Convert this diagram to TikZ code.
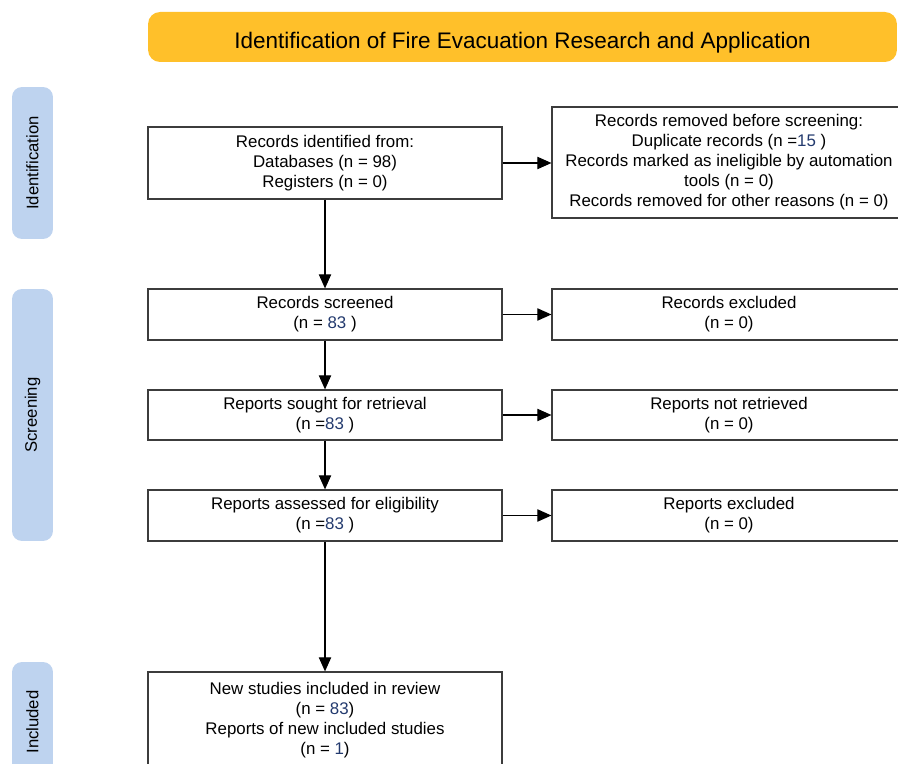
\documentclass[tikz,border=0pt]{standalone}
\usepackage{fontspec}
\setmainfont{Liberation Sans}
\usetikzlibrary{arrows.meta}

\definecolor{titlegold}{RGB}{255,192,42}
\definecolor{phaseblue}{RGB}{190,211,239}
\definecolor{boxline}{RGB}{60,60,60}
\definecolor{numcol}{RGB}{35,58,110}
\newcommand{\boxfont}{\fontsize{9.6}{11.4}\selectfont}
\newcommand{\nval}[1]{\textcolor{numcol}{#1}}

\tikzset{
  recbox/.style={draw=boxline, line width=0.7pt, minimum width=7.08cm,
    align=center, font=\boxfont, inner sep=2pt},
  phase/.style={fill=phaseblue, rounded corners=0.2cm, rotate=90,
    minimum height=0.82cm, font=\fontsize{9.5}{11}\selectfont},
  flow/.style={draw=black, line width=0.65pt, -{Triangle[length=8pt,width=7pt]}}
}

\begin{document}
\begin{tikzpicture}[x=0.02cm,y=-0.02cm]
\useasboundingbox (0,0) rectangle (898,763);
\clip (0,0) rectangle (898,763);

% title bar
\node[fill=titlegold, rounded corners=0.24cm, minimum width=14.98cm, minimum height=1cm,
  text height=0.6cm, text depth=0.12cm,
  font=\fontsize{12.8}{15}\selectfont] (title) at (522.5,37)
  {Identification of Fire Evacuation Research and Application};

% phases
\node[phase, minimum width=3.04cm] (phid) at (32.5,163) {Identification};
\node[phase, minimum width=5.04cm] (phscr) at (32.5,415) {Screening};
\node[phase, minimum width=2.4cm] (phinc) at (32.5,722) {Included};

% left column
\node[recbox, minimum height=1.44cm] (ident) at (325,163)
  {Records identified from:\\Databases (n = 98)\\Registers (n = 0)};
\node[recbox, minimum height=1.02cm] (screened) at (325,314.5)
  {Records screened\\(n = \nval{83} )};
\node[recbox, minimum height=1cm] (sought) at (325,415)
  {Reports sought for retrieval\\(n =\nval{83} )};
\node[recbox, minimum height=1.02cm] (assessed) at (325,515.5)
  {Reports assessed for eligibility\\(n =\nval{83} )};
\node[recbox, minimum height=1.92cm] (included) at (325,720)
  {New studies included in review\\(n = \nval{83})\\Reports of new included studies\\(n = \nval{1})};

% right column
\node[recbox, minimum height=2.22cm] (removed) at (729,162.5)
  {Records removed before screening:\\Duplicate records (n =\nval{15} )\\Records marked as ineligible by automation\\tools (n = 0)\\Records removed for other reasons (n = 0)};
\node[recbox, minimum height=1.02cm] (excl) at (729,314.5)
  {Records excluded\\(n = 0)};
\node[recbox, minimum height=1cm] (notret) at (729,415)
  {Reports not retrieved\\(n = 0)};
\node[recbox, minimum height=1.02cm] (repexcl) at (729,515.5)
  {Reports excluded\\(n = 0)};

% arrows
\draw[flow] (ident) -- (screened);
\draw[flow] (screened) -- (sought);
\draw[flow] (sought) -- (assessed);
\draw[flow] (assessed) -- (included);
\draw[flow] (ident.east) -- (ident.east -| removed.west);
\draw[flow] (screened) -- (excl);
\draw[flow] (sought) -- (notret);
\draw[flow] (assessed) -- (repexcl);
\end{tikzpicture}
\end{document}
